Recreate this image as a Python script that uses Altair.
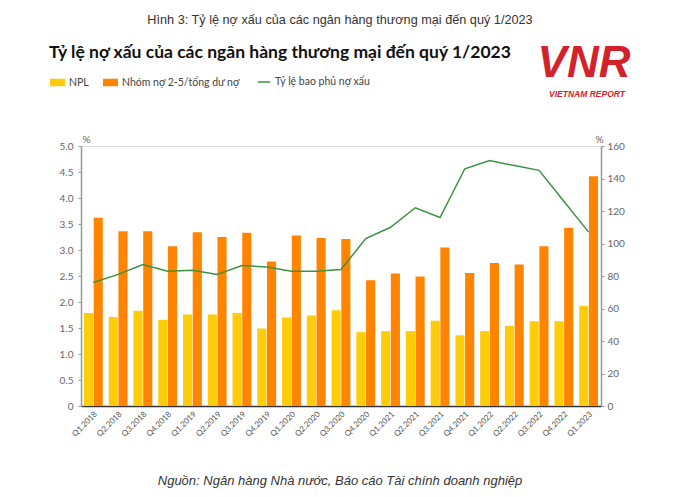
import altair as alt
import pandas as pd

quarters = ["Q1.2018", "Q2.2018", "Q3.2018", "Q4.2018",
            "Q1.2019", "Q2.2019", "Q3.2019", "Q4.2019",
            "Q1.2020", "Q2.2020", "Q3.2020", "Q4.2020",
            "Q1.2021", "Q2.2021", "Q3.2021", "Q4.2021",
            "Q1.2022", "Q2.2022", "Q3.2022", "Q4.2022",
            "Q1.2023"]
npl = [1.79, 1.71, 1.83, 1.66, 1.76, 1.76, 1.79, 1.49, 1.70, 1.74, 1.84,
       1.42, 1.44, 1.44, 1.64, 1.36, 1.44, 1.54, 1.63, 1.63, 1.93]
group25 = [3.62, 3.36, 3.36, 3.07, 3.34, 3.25, 3.33, 2.78, 3.28, 3.23, 3.21,
           2.42, 2.55, 2.49, 3.05, 2.56, 2.75, 2.72, 3.07, 3.43, 4.42]
coverage = [76, 81, 87, 83, 83.5, 81, 86.5, 85.5, 83, 83, 84,
            103, 110, 122, 116, 146, 151, 148, 145, 126, 107]

bar_series = ["NPL", "Nhóm nợ 2-5/tổng dư nợ"]
bar_colors = ["#FFCC0A", "#FF8400"]
line_series = "Tỷ lệ bao phủ nợ xấu"
line_color = "#3F9142"

left_ticks = [0, 0.5, 1.0, 1.5, 2.0, 2.5, 3.0, 3.5, 4.0, 4.5, 5.0]
right_ticks = [0, 20, 40, 60, 80, 100, 120, 140, 160]

caption = "Hình 3: Tỷ lệ nợ xấu của các ngân hàng thương mại đến quý 1/2023"
title = "Tỷ lệ nợ xấu của các ngân hàng thương mại đến quý 1/2023"
source = "Nguồn: Ngân hàng Nhà nước, Báo cáo Tài chính doanh nghiệp"

rows = []
for q, a, b in zip(quarters, npl, group25):
    rows.append({"quarter": q, "series": bar_series[0], "value": a})
    rows.append({"quarter": q, "series": bar_series[1], "value": b})
bars_df = pd.DataFrame(rows)
line_df = pd.DataFrame({"quarter": quarters, "coverage": coverage,
                        "series": [line_series] * len(quarters)})

label_font = "Lato"

x_enc = alt.X("quarter:N", sort=quarters,
              scale=alt.Scale(paddingInner=0.24, paddingOuter=0.12),
              axis=alt.Axis(title=None, labelAngle=-45, labelFontSize=8,
                            labelColor="#555", labelFont=label_font,
                            ticks=False, domainColor="#333",
                            domainWidth=1.5, labelPadding=4))

bars = alt.Chart(bars_df).mark_bar().encode(
    x=x_enc,
    xOffset=alt.XOffset("series:N", sort=bar_series,
                        scale=alt.Scale(paddingInner=0.06)),
    y=alt.Y("value:Q", scale=alt.Scale(domain=[0, 5], nice=False),
            axis=alt.Axis(values=left_ticks, grid=False,
                          labelExpr="datum.value == 0 ? '0' : format(datum.value, '.1f')",
                          labelFontSize=10, labelColor="#666", labelFont=label_font,
                          labelPadding=5, tickSize=3, tickColor="#999",
                          domainColor="#999", domainWidth=1.5,
                          title="%", titleAngle=0, titleX=1, titleY=-2,
                          titleAlign="left", titleBaseline="bottom",
                          titleFontSize=10, titleFontWeight="normal",
                          titleColor="#666", titleFont=label_font)),
    color=alt.Color("series:N",
                    scale=alt.Scale(domain=bar_series, range=bar_colors),
                    legend=alt.Legend(title=None, orient="none", direction="horizontal",
                                      legendX=-31, legendY=-71,
                                      symbolType="M-1,-0.5H1V0.5H-1Z",
                                      symbolSize=225, symbolStrokeWidth=0,
                                      labelFontSize=10.5, labelColor="#444",
                                      labelFont=label_font, columnPadding=14,
                                      labelOffset=4, padding=0)),
)

line = alt.Chart(line_df).mark_line(strokeWidth=1.5).encode(
    x=x_enc,
    y=alt.Y("coverage:Q", scale=alt.Scale(domain=[0, 160], nice=False),
            axis=alt.Axis(orient="right", values=right_ticks, grid=False,
                          labelFontSize=10, labelColor="#666", labelFont=label_font,
                          labelPadding=3, tickSize=3, tickColor="#999",
                          domainColor="#999", domainWidth=1.5,
                          title="%", titleAngle=0, titleX=-2, titleY=-2,
                          titleAlign="center", titleBaseline="bottom",
                          titleFontSize=10, titleFontWeight="normal",
                          titleColor="#666", titleFont=label_font)),
    stroke=alt.Stroke("series:N",
                      scale=alt.Scale(domain=[line_series], range=[line_color]),
                      legend=alt.Legend(title=None, orient="none",
                                        legendX=176, legendY=-71,
                                        symbolType="stroke", symbolSize=150,
                                        symbolStrokeWidth=1.5,
                                        labelFontSize=10.5, labelColor="#444",
                                        labelFont=label_font, labelOffset=4,
                                        padding=0)),
)

one = pd.DataFrame({"k": [0]})

cap_text = alt.Chart(one).mark_text(text=caption, font="Liberation Sans", fontSize=12.7,
                                    color="#333", align="center", baseline="middle").encode(
    x=alt.value(259), y=alt.value(-126))
title_text = alt.Chart(one).mark_text(text=title, font="Lato", fontSize=17.5,
                                      fontWeight="bold", color="#111", align="left",
                                      baseline="middle").encode(
    x=alt.value(-32), y=alt.value(-93))
logo_text = alt.Chart(one).mark_text(text="VNR", font="Liberation Sans", fontSize=44,
                                     fontWeight="bold", fontStyle="italic", color="#D2232A",
                                     align="center", baseline="middle").encode(
    x=alt.value(503), y=alt.value(-82))
logo_sub = alt.Chart(one).mark_text(text="VIETNAM REPORT", font="Liberation Sans",
                                    fontSize=8.5, fontWeight="bold", fontStyle="italic",
                                    color="#D2232A", align="center",
                                    baseline="middle").encode(
    x=alt.value(506), y=alt.value(-52))
src_text = alt.Chart(one).mark_text(text=source, font="Liberation Sans", fontSize=13,
                                    fontStyle="italic", color="#333", align="center",
                                    baseline="middle").encode(
    x=alt.value(259), y=alt.value(335))

chart = alt.layer(bars, line, cap_text, title_text, logo_text, logo_sub, src_text).resolve_scale(
    y="independent"
).properties(
    width=520, height=260,
    padding={"left": 73, "top": 138, "right": 85, "bottom": 83},
    autosize=alt.AutoSizeParams(type="none"),
).configure_view(stroke=None).configure(background="white")

chart.save("out.html", embed_options={"renderer": "svg", "actions": False})
